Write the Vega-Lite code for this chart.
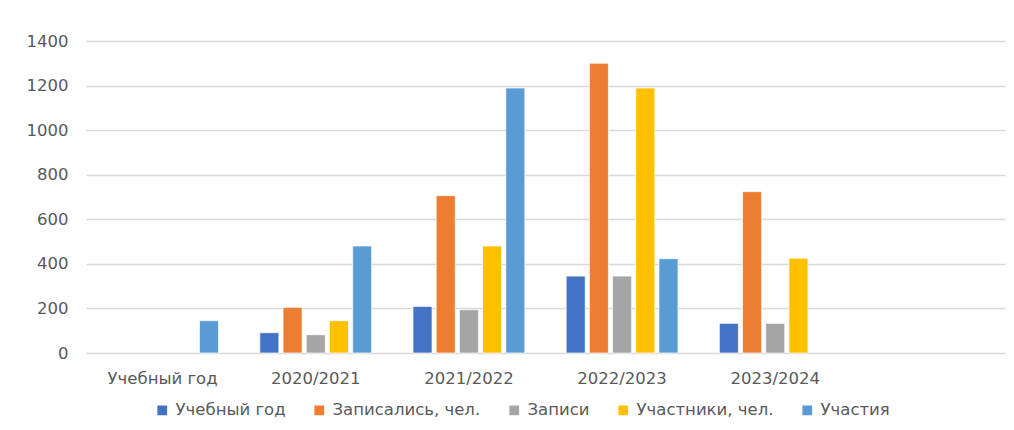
{
  "$schema": "https://vega.github.io/schema/vega-lite/v6.json",
  "autosize": "none",
  "width": 919,
  "height": 312,
  "padding": {"left": 86, "top": 41, "right": 9, "bottom": 77},
  "background": "white",
  "config": {
    "view": {"stroke": null},
    "font": "DejaVu Sans"
  },
  "data": {
    "values": [
      {"year": "Учебный год", "series": "Участия", "value": 145},
      {"year": "2020/2021", "series": "Учебный год", "value": 91},
      {"year": "2020/2021", "series": "Записались, чел.", "value": 205},
      {"year": "2020/2021", "series": "Записи", "value": 82},
      {"year": "2020/2021", "series": "Участники, чел.", "value": 145},
      {"year": "2020/2021", "series": "Участия", "value": 480},
      {"year": "2021/2022", "series": "Учебный год", "value": 209},
      {"year": "2021/2022", "series": "Записались, чел.", "value": 706},
      {"year": "2021/2022", "series": "Записи", "value": 194},
      {"year": "2021/2022", "series": "Участники, чел.", "value": 480},
      {"year": "2021/2022", "series": "Участия", "value": 1189},
      {"year": "2022/2023", "series": "Учебный год", "value": 345},
      {"year": "2022/2023", "series": "Записались, чел.", "value": 1300},
      {"year": "2022/2023", "series": "Записи", "value": 345},
      {"year": "2022/2023", "series": "Участники, чел.", "value": 1189},
      {"year": "2022/2023", "series": "Участия", "value": 423},
      {"year": "2023/2024", "series": "Учебный год", "value": 133},
      {"year": "2023/2024", "series": "Записались, чел.", "value": 724},
      {"year": "2023/2024", "series": "Записи", "value": 133},
      {"year": "2023/2024", "series": "Участники, чел.", "value": 425}
    ]
  },
  "mark": {"type": "bar", "stroke": "white", "strokeWidth": 0.7},
  "encoding": {
    "x": {
      "field": "year",
      "type": "nominal",
      "sort": null,
      "scale": {
        "domain": ["Учебный год", "2020/2021", "2021/2022", "2022/2023", "2023/2024", " "],
        "paddingInner": 0.27,
        "paddingOuter": 0.135
      },
      "axis": {
        "title": null,
        "labelAngle": 0,
        "domain": false,
        "ticks": false,
        "labelPadding": 17,
        "labelFont": "DejaVu Sans",
        "labelFontSize": 16.5,
        "labelColor": "#595959"
      }
    },
    "xOffset": {
      "field": "series",
      "type": "nominal",
      "scale": {
        "domain": ["Учебный год", "Записались, чел.", "Записи", "Участники, чел.", "Участия"],
        "paddingInner": 0.18,
        "paddingOuter": 0
      }
    },
    "y": {
      "field": "value",
      "type": "quantitative",
      "scale": {"domain": [0, 1400], "nice": false},
      "axis": {
        "title": null,
        "values": [0, 200, 400, 600, 800, 1000, 1200, 1400],
        "format": "d",
        "domain": false,
        "ticks": false,
        "gridColor": "#D9D9D9",
        "gridWidth": 1.3,
        "labelPadding": 18,
        "labelFont": "DejaVu Sans",
        "labelFontSize": 16.5,
        "labelColor": "#595959"
      }
    },
    "color": {
      "field": "series",
      "type": "nominal",
      "scale": {
        "domain": ["Учебный год", "Записались, чел.", "Записи", "Участники, чел.", "Участия"],
        "range": ["#4472C4", "#ED7D31", "#A5A5A5", "#FFC000", "#5B9BD5"]
      },
      "legend": {
        "title": null,
        "orient": "none",
        "legendX": 68,
        "legendY": 361,
        "direction": "horizontal",
        "symbolType": "square",
        "symbolSize": 95,
        "symbolStrokeWidth": 0,
        "columnPadding": 25,
        "labelOffset": 5,
        "labelFont": "DejaVu Sans",
        "labelFontSize": 16.5,
        "labelColor": "#595959"
      }
    }
  }
}
